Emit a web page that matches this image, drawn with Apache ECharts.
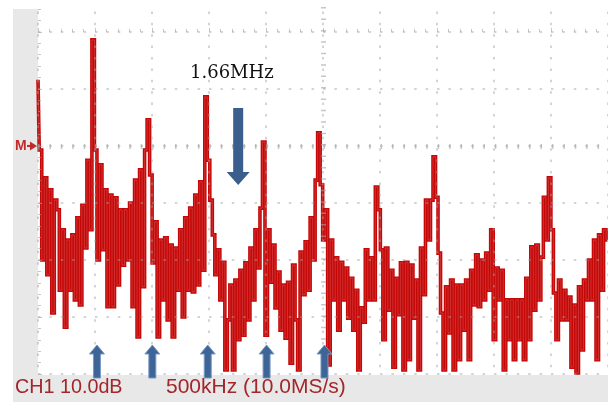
<!DOCTYPE html>
<html>
<head>
<meta charset="utf-8">
<script src="https://cdn.jsdelivr.net/npm/echarts@6/dist/echarts.min.js"></script>
<style>
html,body{margin:0;padding:0;background:#fff;}
#c{width:608px;height:402px;}
</style>
</head>
<body>
<div id="c"></div>
<script>
// FFT bin spacing (kHz) – 500 kHz/div screen
const binKHz = 22;
// Trace magnitude in dB (10 dB/div)
const traceDb = [
 -8.4,-20.7,-40,-25.6,-42.6,-27.7,-49.3,-29.5,-31.2,-45.3,
 -34.7,-51.8,-36.5,-45.3,-35.6,-47.0,-32.6,-47.9,-30.4,-37.9,
 -22.5,-34.7,-1.4,-20.7,-40,-23.3,-38.2,-27.7,-48.2,-28.6,
 -48.2,-29.1,-44.4,-31.2,-40.9,-31.2,-40,-30.0,-48.2,-26.0,
 -53.5,-24.2,-44.7,-20.7,-15.4,-25.1,-40.5,-33.3,-53.5,-36.5,
 -47.0,-36.1,-50.5,-37.4,-53.5,-37.9,-45.3,-34.7,-50.0,-32.6,
 -45.3,-30.9,-45.6,-28.6,-44.4,-26.3,-41.8,-11.4,-22.5,-29.5,
 -35.6,-42.6,-38.2,-47.0,-40.4,-59.3,-50.5,-44.4,-59.3,-43.5,
 -54.0,-41.8,-53.2,-40.5,-50.5,-37.9,-47.0,-34.7,-41.4,-30.9,
 -19.3,-53.2,-34.7,-43.9,-37.4,-48.4,-42.1,-52.3,-44.4,-53.7,
 -43.9,-58.1,-40.9,-50.5,-59.3,-38.6,-46.1,-36.8,-45.3,-32.6,
 -40,-26.0,-17.7,-26.8,-36.5,-31.2,-58.4,-36.5,-47.0,-39.6,
 -52.3,-40.4,-47.0,-41.4,-50.2,-43.2,-52.3,-45.3,-59.3,-48.4,
 -50.9,-38.2,-47.0,-39.6,-47.0,-27.2,-31.2,-38.2,-54.0,-37.9,
 -48.8,-41.8,-58.8,-43.2,-49.6,-40.5,-59.3,-40.4,-57.5,-40.9,
 -50.2,-43.5,-59.3,-37.9,-46.1,-29.5,-36.5,-29.5,-21.9,-29.0,
 -38.8,-49.3,-59.3,-44.7,-52.8,-43.5,-59.3,-44.4,-57.5,-44.4,
 -52.3,-43.5,-57.5,-41.8,-47.9,-39.1,-48.2,-40,-47.0,-38.8,
 -45.3,-34.7,-54.0,-41.4,-47.0,-41.8,-59.3,-47.0,-54.0,-47.0,
 -57.5,-47.0,-54.0,-47.0,-57.5,-43.2,-54.0,-37.7,-48.8,-37.4,
 -47.0,-39.5,-29.0,-36.5,-25.6,-34.7,-45.8,-54.0,-43.5,-50.5,
 -45.3,-50.5,-46.5,-58.8,-47.9,-59.8,-44.7,-55.8,-43.5,-47.0,
 -40,-47.0,-36.5,-57.5,-35.6,-45.3,-34.7,-36.5
];
// Annotation positions (kHz)
const upArrowKHz = [517, 1003, 1489, 2005, 2513];
const downArrowKHz = 1756;
const annotationText = '1.66MHz';
const statusLeft = 'CH1 10.0dB';
const statusRight = '500kHz (10.0MS/s)';

const traceData = traceDb.map((v, i) => [i * binKHz, v]);

const chart = echarts.init(document.getElementById('c'), null, {renderer: 'canvas'});
const gridCol = 'rgba(160,160,160,0.6)';
const option = {
  animation: false,
  backgroundColor: '#ffffff',
  grid: {left: 38, top: 0, width: 571, height: 374, show: false},
  xAxis: {
    type: 'value', min: 0, max: 5000, interval: 500, z: 5,
    axisLine: {show: false},
    axisLabel: {show: false},
    axisTick: {show: true, inside: true, length: 4, lineStyle: {color: gridCol}},
    minorTick: {show: true, splitNumber: 5, length: 3, lineStyle: {color: gridCol}},
    splitLine: {show: true, lineStyle: {color: gridCol, width: 1.5, type: [2.5, 8.9]}}
  },
  yAxis: {
    type: 'value', min: -60, max: 5.6, interval: 10, z: 5,
    axisLine: {show: false},
    axisLabel: {show: false},
    axisTick: {show: true, inside: true, length: 4, lineStyle: {color: gridCol}},
    minorTick: {show: true, splitNumber: 5, length: 3, lineStyle: {color: gridCol}},
    splitLine: {show: true, lineStyle: {color: gridCol, width: 1.5, type: [2.5, 8.9]}}
  },
  series: [
    {
      type: 'line', data: traceData, step: 'middle', showSymbol: false, silent: true,
      lineStyle: {color: '#c40808', width: 3.6, join: 'miter', cap: 'butt'}, z: 2
    },
    {
      type: 'line', data: traceData, step: 'middle', showSymbol: false, silent: true,
      lineStyle: {color: 'rgba(235,120,120,0.45)', width: 0.8}, z: 3
    },
    {
      type: 'line', data: [], silent: true, z: 6,
      markLine: {
        silent: true, symbol: 'none', label: {show: false},
        lineStyle: {color: 'rgba(160,160,160,0.6)', width: 5, type: [1.5, 9.92]},
        data: [{xAxis: 2500}, {yAxis: -20}]
      }
    }
  ]
};
chart.setOption(option);

function px(k, db) { return chart.convertToPixel({gridIndex: 0}, [k, db]); }
function arrow(cx, tipY, headH, headHW, shaftHW, endY) {
  const s = endY > tipY ? 1 : -1;
  const b = tipY + s * headH;
  return [[cx, tipY], [cx + headHW, b], [cx + shaftHW, b], [cx + shaftHW, endY],
          [cx - shaftHW, endY], [cx - shaftHW, b], [cx - headHW, b]];
}
const blue = '#3d6597';
const g = [];
// white margin above the screen area
g.push({type: 'rect', z: 20, shape: {x: 0, y: 0, width: 608, height: 4}, style: {fill: '#ffffff'}});
// gray bezel strips
g.push({type: 'rect', z: 0, shape: {x: 13, y: 9, width: 25, height: 393}, style: {fill: '#e8e8e8'}});
g.push({type: 'rect', z: 0, shape: {x: 13, y: 375, width: 595, height: 27}, style: {fill: '#e8e8e8'}});
// status texts
g.push({type: 'text', z: 10, x: 15, y: 387, scaleX: 0.94, style: {text: statusLeft, font: '21px "Liberation Sans", Arial, sans-serif', fill: '#a3262a', textVerticalAlign: 'middle'}});
g.push({type: 'text', z: 10, x: 166, y: 387, scaleX: 1.0, style: {text: statusRight, font: '21px "Liberation Sans", Arial, sans-serif', fill: '#a3262a', textVerticalAlign: 'middle'}});
// M marker
const mY = px(0, -20)[1];
g.push({type: 'text', z: 10, x: 15, y: mY, style: {text: 'M', font: 'bold 14px "Liberation Sans", Arial, sans-serif', fill: '#c42a2a', textVerticalAlign: 'middle'}});
g.push({type: 'polygon', z: 10, shape: {points: [[30, mY - 4.5], [37, mY], [30, mY + 4.5]]}, style: {fill: '#c42a2a'}});
g.push({type: 'line', z: 10, shape: {x1: 27, y1: mY, x2: 31, y2: mY}, style: {stroke: '#c42a2a', lineWidth: 2}});
// up arrows
upArrowKHz.forEach(k => {
  const cx = px(k, -60)[0];
  g.push({type: 'polygon', z: 10, shape: {points: arrow(cx, 345, 9, 7.5, 3.5, 378)}, style: {fill: blue, stroke: '#7a98c2', lineWidth: 1}});
});
// down arrow
const dx = px(downArrowKHz, 0)[0];
g.push({type: 'polygon', z: 10, shape: {points: arrow(dx, 185, 13, 11.5, 5, 108)}, style: {fill: '#3a5f8e'}});
// label
g.push({type: 'text', z: 10, x: 190, y: 73, style: {text: annotationText, font: '18px "DejaVu Serif", serif', fill: '#111', textVerticalAlign: 'middle'}});
chart.setOption({graphic: g});
</script>
</body>
</html>
